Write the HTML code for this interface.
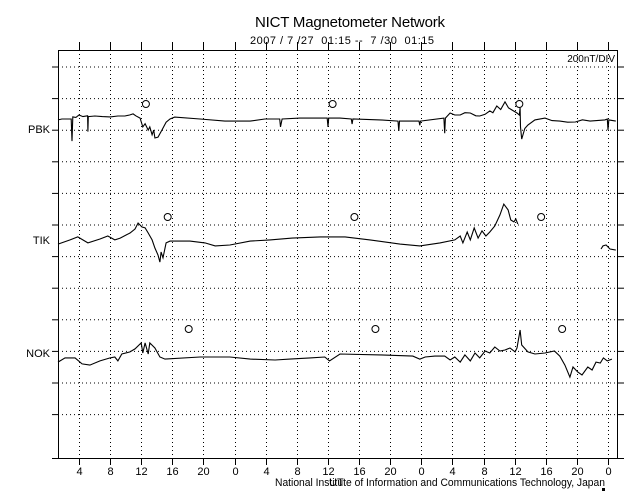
<!DOCTYPE html>
<html><head><meta charset="utf-8"><style>
html,body{margin:0;padding:0;background:#fff;}
svg{display:block;font-family:"Liberation Sans",Arial,sans-serif;}
</style></head><body>
<svg id="chart" width="640" height="500" viewBox="0 0 640 500">
<text x="350" y="27" font-size="15" text-anchor="middle" textLength="190">NICT Magnetometer Network</text>
<text x="342" y="44" font-size="11" text-anchor="middle" textLength="184">2007 / 7 /27&#160;&#160;01:15 --&#160;&#160;7 /30&#160;&#160;01:15</text>
<g id="grid"></g>
<g id="axes"></g>
<g id="series"></g>
<text x="615" y="62" font-size="10" text-anchor="end">200nT/DIV</text>
<text x="275" y="486" font-size="11" textLength="330" lengthAdjust="spacingAndGlyphs">National Institute of Information and Communications Technology, Japan</text>
<text x="329" y="486" font-size="11">UT</text>
<rect x="602" y="488" width="3" height="3" fill="#000"></rect>
</svg>
<script>
const xTickHours=[4,8,12,16,20,24,28,32,36,40,44,48,52,56,60,64,68,72];
const xTickLabels=["4","8","12","16","20","0","4","8","12","16","20","0","4","8","12","16","20","0"];
const stations=["PBK","TIK","NOK"];
const baselines=[119,242,360];
const noonHours=[12.6,15.4,18.1];
const pbkT=[1.3,1.8,3.0,3.1,3.2,3.6,4.0,4.5,5.1,5.15,5.2,6.05,7,8,9,9.9,10.5,10.95,11.3,11.85,12.2,12.5,12.9,13.1,13.4,13.6,13.75,14.15,14.65,15.2,15.7,16.3,19.55,22.75,26,27.9,29.8,29.9,30.1,32.4,35.9,36,36.1,37.55,39.0,39.1,39.2,42.7,45.0,45.1,45.2,47.7,47.8,47.9,50.9,51.0,51.1,51.7,52.3,53,53.6,54.3,55,55.5,56.2,56.8,57.2,57.7,58.2,58.75,59.2,59.65,60.3,60.6,60.7,60.75,60.9,61.3,61.7,62.6,63.9,64.8,65.8,66.8,67.8,68.7,69.7,71.6,71.9,72.0,72.1,73.0];
const pbkV=[-6,0,0,-140,13,10,25,15,20,-80,15,19,15,13,19,19,25,32,20,6,-50,-30,-70,-50,-100,-70,-120,-115,-70,-20,0,12,0,-13,-13,0,0,-50,0,6,6,-50,6,6,0,-32,0,-6,-13,-76,-13,-13,-40,-13,6,-90,6,38,25,25,40,38,20,19,30,51,40,82,60,108,70,57,38,25,70,-50,-127,-60,-38,-6,6,-10,-13,-20,-19,-5,-13,-6,0,-70,-6,-13];
const tikT=[1.3,2.85,3.85,5.15,6.7,7.7,8.6,9.3,10.55,11.2,11.6,12.1,12.5,12.9,13.4,13.75,14.15,14.4,14.55,14.8,15.2,15.7,18.25,20.2,21.5,23.4,26,28.55,31.4,35,38.2,41.4,45.25,47.8,50.4,52.3,53,53.35,53.9,54.3,54.8,55.3,55.8,56.3,56.8,57.45,58.1,58.6,59.15,59.5,59.9,60.15,60.4,70.7,71.1,71.35,71.75,72.25,73];
const tikV=[-13,13,32,-6,19,38,13,25,57,82,120,95,89,57,13,-38,-82,-127,-63,-100,-6,6,6,-6,-25,-19,6,13,25,32,32,13,-13,-25,-6,13,38,-6,63,13,89,25,70,38,63,101,171,240,203,139,127,146,114,null,-44,-25,-19,-44,-51,-63];
const nokT=[1.3,2.2,3.5,4.4,5.4,6.7,8,8.6,9,9.5,10.55,11.2,12,12.2,12.5,12.9,13.1,13.75,14.4,15.05,19.55,23.4,26,29.2,31.1,33.7,35.6,36.2,37.55,42.7,46.9,47.8,48.5,49.75,51,51.7,52.3,53,53.6,54.3,54.9,55.5,56.2,56.8,57.45,58.1,58.75,59.4,60.05,60.3,60.7,60.9,61.7,62.6,63.9,65.1,65.8,66.45,67.1,67.5,68.1,68.65,69.4,69.95,70.45,71,71.4,71.9,72.5];
const nokV=[-13,13,13,-25,-32,-6,13,19,-6,38,51,70,108,44,108,38,108,76,19,6,19,19,6,0,6,13,19,-6,38,32,25,6,19,25,25,0,19,-13,32,-6,44,13,57,44,82,57,63,76,51,76,190,95,51,38,44,57,25,-32,-108,-44,-76,-95,-44,-63,-13,-19,13,-6,6];
const seriesT=[pbkT,tikT,nokT];
const seriesV=[pbkV,tikV,nokV];

const NS="http://www.w3.org/2000/svg";
const L=58,R=617,T=50,B=458;
const gridYs=[67,98.6,130.2,161.8,193.4,225,256.6,288.2,319.8,351.4,383,414.6];
const markerYs=[104,217,329];
function xScale(h){return 79+(h-4)*7.78;}
const pxPerNT=31.6/200;
function yScale(i,v){return baselines[i]-v*pxPerNT;}
function mk(tag,attrs,parent){const e=document.createElementNS(NS,tag);for(const k in attrs)e.setAttribute(k,attrs[k]);parent.appendChild(e);return e;}
const grid=document.getElementById('grid'),axes=document.getElementById('axes'),ser=document.getElementById('series');
gridYs.forEach(y=>{
  const l=mk('line',{x1:L,x2:R,y1:y,y2:y,stroke:'#000','stroke-width':1,'stroke-dasharray':'1 3'},grid);
  
  
  const t1=mk('line',{x1:52,x2:L,y1:y,y2:y,stroke:'#000'},axes);
  
  
  const t2=mk('line',{x1:R,x2:624,y1:y,y2:y,stroke:'#000'},axes);
  
  
});
xTickHours.forEach((h,i)=>{
  const x=Math.round(xScale(h))+0.5;
  const g=mk('line',{x1:x,x2:x,y1:T,y2:B,stroke:'#000','stroke-dasharray':'1 3'},grid);
  
  
  const tt=mk('line',{x1:x,x2:x,y1:42,y2:T,stroke:'#000'},axes);
  
  
  const bt=mk('line',{x1:x,x2:x,y1:B,y2:465,stroke:'#000'},axes);
  
  
  const lb=mk('text',{x:x,y:475,'font-size':11,'text-anchor':'middle'},axes);
  lb.textContent=xTickLabels[i];
  
  
});
const box=mk('rect',{x:L+0.5,y:T+0.5,width:R-L,height:B-T,fill:'none',stroke:'#000'},axes);


const base=mk('line',{x1:52,x2:624,y1:B+0.5,y2:B+0.5,stroke:'#000'},axes);


const labelYs=[133,244,357];
stations.forEach((s,i)=>{
  const lb=mk('text',{x:50,y:labelYs[i],'font-size':11,'text-anchor':'end'},axes);
  lb.textContent=s;
  
  
  let d='',pen=false;
  seriesT[i].forEach((t,j)=>{
    const v=seriesV[i][j];
    if(v===null){pen=false;return;}
    d+=(pen?'L':'M')+xScale(t).toFixed(1)+' '+yScale(i,v).toFixed(1)+' ';pen=true;
  });
  const p=mk('path',{d:d,fill:'none',stroke:'#000','stroke-width':1.1},ser);
  
  
  for(let k=0;k<3;k++){
    const c=mk('circle',{cx:xScale(noonHours[i]+24*k),cy:markerYs[i],r:3.5,fill:'none',stroke:'#000'},ser);
    
    
  }
});
</script>
</body></html>
